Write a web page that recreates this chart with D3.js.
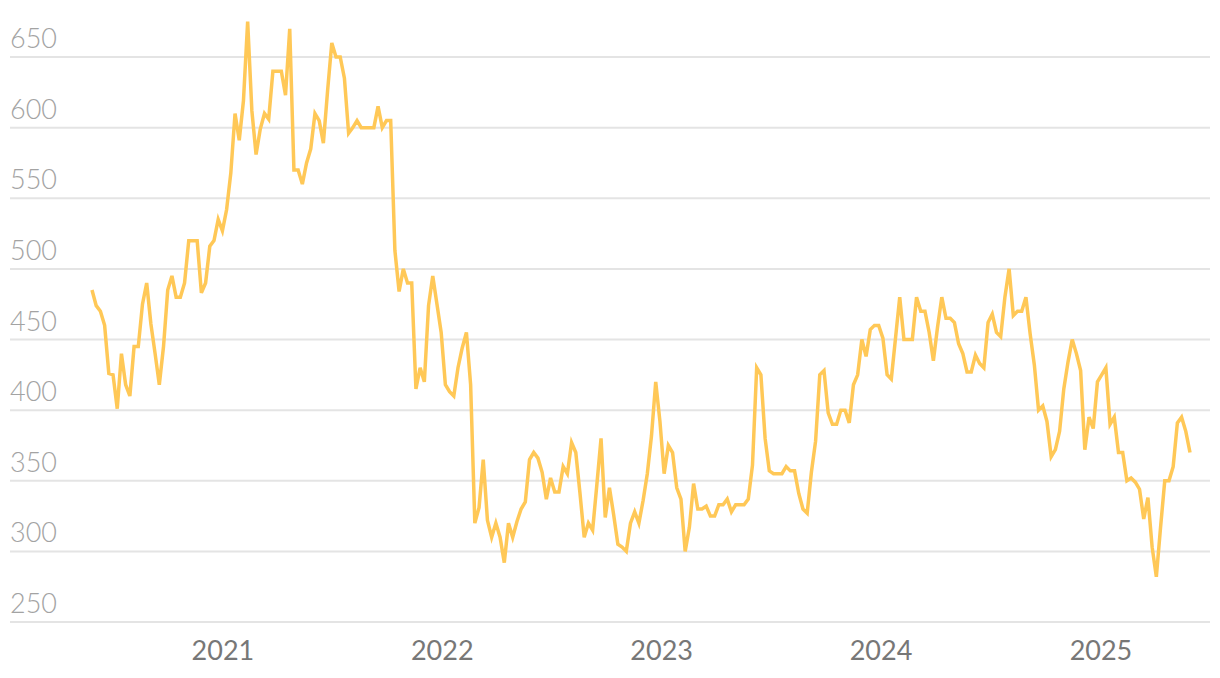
<!DOCTYPE html>
<html>
<head>
<meta charset="utf-8">
<script src="https://cdn.jsdelivr.net/npm/d3@7"></script>
<style>
  html, body { margin: 0; padding: 0; background: #ffffff; }
  svg { display: block; }
</style>
</head>
<body>
<svg id="chart" width="1220" height="678"></svg>
<script>
// Weekly series, first observation on this date
const startDate = "2020-05-29";
const values = [
  485, 474, 470, 460, 426, 425, 401, 440, 418, 410,
  445, 445, 475, 490, 461, 440, 418, 445, 485, 495,
  480, 480, 490, 520, 520, 520, 483, 490, 516, 520,
  535, 527, 542, 568, 610, 591, 619, 675, 612, 581,
  599, 610, 606, 640, 640, 640, 623, 670, 570, 570,
  560, 575, 585, 610, 605, 589, 626, 660, 650, 650,
  635, 596, 600, 605, 600, 600, 600, 600, 615, 600,
  605, 605, 513, 484, 500, 490, 490, 415, 430, 420,
  474, 495, 475, 455, 418, 413, 410, 430, 444, 455,
  418, 320, 331, 365, 322, 310, 320, 310, 292, 320,
  310, 321, 330, 335, 365, 370, 366, 356, 337, 352,
  342, 342, 360, 355, 377, 370, 341, 310, 320, 315,
  347, 380, 324, 345, 326, 305, 303, 300, 320, 328,
  320, 336, 355, 382, 420, 392, 355, 375, 370, 345,
  337, 300, 317, 348, 330, 330, 332, 325, 325, 333,
  333, 337, 328, 333, 333, 333, 337, 361, 430, 425,
  380, 357, 355, 355, 355, 360, 357, 357, 341, 330,
  327, 356, 378, 425, 428, 398, 390, 390, 400, 400,
  391, 418, 425, 450, 438, 457, 460, 460, 451, 425,
  422, 451, 480, 450, 450, 450, 480, 470, 470, 455,
  435, 459, 480, 465, 465, 462, 447, 440, 427, 427,
  439, 433, 430, 462, 468, 455, 452, 480, 500, 467,
  470, 470, 480, 454, 432, 400, 403, 392, 367, 372,
  385, 415, 434, 450, 440, 428, 372, 395, 387, 420,
  425, 430, 390, 395, 370, 370, 350, 352, 349, 344,
  323, 338, 303, 282, 317, 350, 350, 360, 391, 395,
  385, 370
];
const yTicks = [250, 300, 350, 400, 450, 500, 550, 600, 650];
const xTickYears = ["2021", "2022", "2023", "2024", "2025"];

const parse = d3.timeParse("%Y-%m-%d");
const start = parse(startDate);
const data = values.map((v, i) => ({ date: d3.timeDay.offset(start, 7 * i), value: v }));

const svg = d3.select("#chart");

const x = d3.scaleTime()
  .domain(d3.extent(data, d => d.date))
  .range([92, 1190]);

const y = d3.scaleLinear()
  .domain([250, 650])
  .range([622, 57]);

const gridLeft = 10, gridRight = 1210;

// gridlines
svg.append("g")
  .selectAll("line")
  .data(yTicks)
  .join("line")
  .attr("x1", gridLeft)
  .attr("x2", gridRight)
  .attr("y1", d => y(d))
  .attr("y2", d => y(d))
  .attr("stroke", "#e4e4e4")
  .attr("stroke-width", 2);

// y labels (above gridlines)
svg.append("g")
  .selectAll("text")
  .data(yTicks)
  .join("text")
  .attr("x", gridLeft)
  .attr("y", d => y(d) - 9)
  .attr("font-family", "Lato, 'Open Sans', sans-serif")
  .attr("font-weight", 300)
  .attr("font-size", 27)
  .attr("fill", "#a3a3a3")
  .text(d => d);

// x axis labels
const xTicks = xTickYears.map(s => d3.timeParse("%Y")(s));
const xAxis = d3.axisBottom(x)
  .tickValues(xTicks)
  .tickFormat(d3.timeFormat("%Y"))
  .tickSize(0)
  .tickPadding(0);

const gx = svg.append("g")
  .attr("transform", "translate(0,640)")
  .call(xAxis);
gx.select(".domain").remove();
gx.selectAll("text")
  .attr("dy", "0.75em")
  .attr("font-family", "Lato, 'Open Sans', sans-serif")
  .attr("font-size", 27)
  .attr("fill", "#777777");

// line
const line = d3.line()
  .x(d => x(d.date))
  .y(d => y(d.value));

svg.append("path")
  .datum(data)
  .attr("d", line)
  .attr("fill", "none")
  .attr("stroke", "#ffc857")
  .attr("stroke-width", 3.5)
  .attr("stroke-linejoin", "miter")
  .attr("stroke-linecap", "butt");
</script>
</body>
</html>
